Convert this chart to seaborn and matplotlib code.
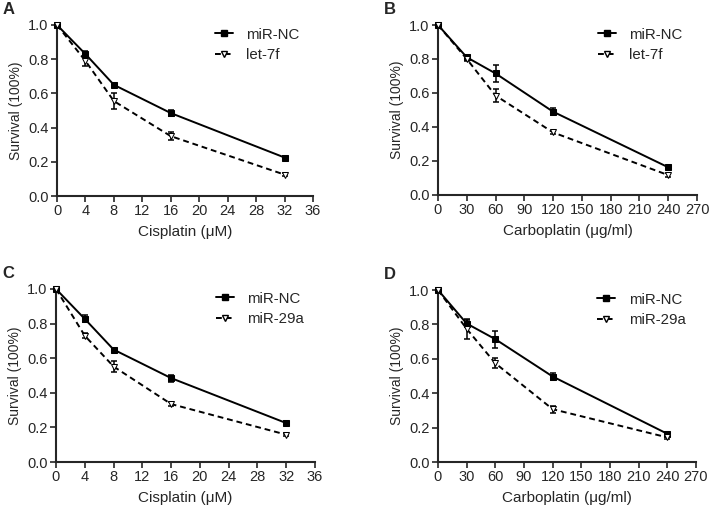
import numpy as np
import pandas as pd
import matplotlib
matplotlib.use("Agg")
import matplotlib.pyplot as plt
import seaborn as sns
from matplotlib.lines import Line2D

# Данные
cis_dose = [0, 4, 8, 16, 32]
carbo_dose = [0, 30, 60, 120, 240]

a_nc = [1.0, 0.83, 0.65, 0.485, 0.225]
a_nc_err = [0.01, 0.02, 0.01, 0.02, 0.01]
a_let = [1.0, 0.79, 0.555, 0.35, 0.125]
a_let_err = [0.01, 0.03, 0.045, 0.025, 0.01]

b_nc = [1.0, 0.81, 0.715, 0.49, 0.163]
b_nc_err = [0.01, 0.01, 0.05, 0.02, 0.01]
b_let = [1.0, 0.80, 0.585, 0.368, 0.117]
b_let_err = [0.01, 0.01, 0.04, 0.01, 0.01]

c_nc = [1.0, 0.827, 0.65, 0.485, 0.225]
c_nc_err = [0.01, 0.02, 0.01, 0.02, 0.01]
c_29a = [1.0, 0.73, 0.552, 0.335, 0.158]
c_29a_err = [0.01, 0.015, 0.03, 0.01, 0.01]

d_nc = [1.0, 0.805, 0.714, 0.497, 0.164]
d_nc_err = [0.01, 0.02, 0.05, 0.02, 0.01]
d_29a = [1.0, 0.774, 0.574, 0.307, 0.143]
d_29a_err = [0.01, 0.06, 0.03, 0.02, 0.01]

sns.set_style("ticks")
plt.rcParams['font.family'] = ['Liberation Sans', 'DejaVu Sans']
plt.rcParams['font.size'] = 10

fig = plt.figure(figsize=(7.09, 5.09), dpi=100)
W, H = 709, 509


def make_ax(left, top, right, bottom):
    return fig.add_axes([left / W, 1 - bottom / H, (right - left) / W, (bottom - top) / H])


panels = [
    dict(ax=make_ax(57, 25, 313, 196), letter='A', dose=cis_dose, nc=a_nc, nc_err=a_nc_err,
         mi=a_let, mi_err=a_let_err, label='let-7f', xmax=36, step=4, xlabel='Cisplatin (\u03bcM)'),
    dict(ax=make_ax(438, 25, 697, 195), letter='B', dose=carbo_dose, nc=b_nc, nc_err=b_nc_err,
         mi=b_let, mi_err=b_let_err, label='let-7f', xmax=270, step=30, xlabel='Carboplatin (\u03bcg/ml)'),
    dict(ax=make_ax(56, 289, 315, 462), letter='C', dose=cis_dose, nc=c_nc, nc_err=c_nc_err,
         mi=c_29a, mi_err=c_29a_err, label='miR-29a', xmax=36, step=4, xlabel='Cisplatin (\u03bcM)'),
    dict(ax=make_ax(438, 290, 696, 462), letter='D', dose=carbo_dose, nc=d_nc, nc_err=d_nc_err,
         mi=d_29a, mi_err=d_29a_err, label='miR-29a', xmax=270, step=30, xlabel='Carboplatin (\u03bcg/ml)'),
]

for p in panels:
    ax = p['ax']
    df = pd.DataFrame({
        'dose': p['dose'] * 2,
        'surv': p['nc'] + p['mi'],
        'group': ['miR-NC'] * len(p['dose']) + [p['label']] * len(p['dose']),
    })
    sns.lineplot(data=df, x='dose', y='surv', hue='group', style='group',
                 palette=['black', 'black'], dashes=[(1, 0), (3, 2)],
                 markers=['s', 'v'], markersize=4.6, linewidth=1.4, ax=ax,
                 legend=False, clip_on=False, zorder=3)
    # открытые треугольники
    ax.lines[1].set_markerfacecolor('white')
    ax.lines[1].set_markeredgecolor('black')
    ax.lines[0].set_markeredgecolor('black')

    ax.errorbar(p['dose'], p['nc'], yerr=p['nc_err'], fmt='none', ecolor='black',
                elinewidth=1.1, capsize=2.5, capthick=1.1, zorder=2, clip_on=False)
    ax.errorbar(p['dose'], p['mi'], yerr=p['mi_err'], fmt='none', ecolor='black',
                elinewidth=1.1, capsize=2.5, capthick=1.1, zorder=2, clip_on=False)

    ax.set_xlim(0, p['xmax'])
    ax.set_ylim(0, 1.0)
    ax.set_xticks(np.arange(0, p['xmax'] + 1, p['step']))
    ax.set_yticks(np.arange(0, 1.01, 0.2))
    ax.yaxis.set_major_formatter(plt.FuncFormatter(lambda v, pos: f'{v:.1f}'))
    ax.tick_params(direction='out', length=4, width=1.2, labelsize=10.5, pad=2)
    for s in ['left', 'bottom']:
        ax.spines[s].set_linewidth(1.5)
    sns.despine(ax=ax)
    ax.set_xlabel(p['xlabel'], fontsize=11, labelpad=5)
    ax.set_ylabel('Survival (100%)', fontsize=10, labelpad=4)

    h1 = Line2D([], [], color='black', lw=1.4, marker='s', markersize=4)
    h2 = Line2D([], [], color='black', lw=1.4, ls=(0, (3, 2)), marker='v', markersize=4,
                markerfacecolor='white')
    ax.legend([h1, h2], ['miR-NC', p['label']], loc='upper left', bbox_to_anchor=(0.617, 0.985),
              frameon=False, handlelength=1.2, handletextpad=0.9, borderpad=0, borderaxespad=0,
              fontsize=10.8, labelspacing=0.45)

    bb = ax.get_position()
    fig.text(bb.x0 - 54 / W, bb.y1 + 8 / H, p['letter'], fontsize=12, fontweight='bold',
             va='bottom', ha='left')

fig.savefig('out.png', dpi=100)
